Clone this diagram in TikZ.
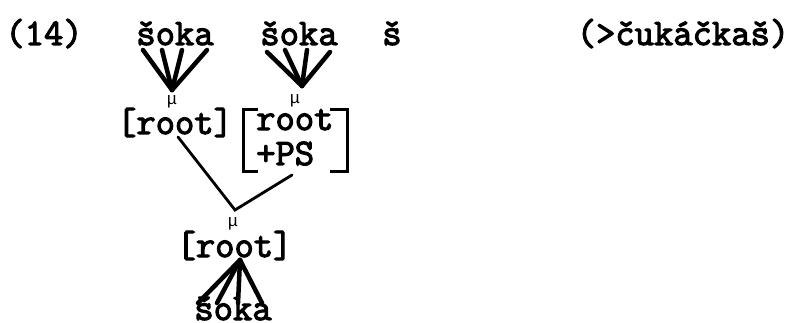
\documentclass[tikz,border=0pt]{standalone}
\usepackage{fontspec}
\newfontface\tw{Latin Modern Mono}[FakeBold=3]
\newfontface\twmu{Liberation Mono}
\begin{document}
\begin{tikzpicture}[x=1pt,y=-1pt,
  word/.style={inner sep=0pt,anchor=base,font=\fontsize{37.5}{40}\tw},
  wordw/.style={inner sep=0pt,anchor=base west,font=\fontsize{37.5}{40}\tw},
  mu/.style={inner sep=0pt,anchor=base,font=\fontsize{17}{18}\twmu},
  fan/.style={line width=4.5pt,line cap=round},
  branch/.style={line width=2.8pt,line cap=round},
  brk/.style={line width=3pt}]
\useasboundingbox (0,0) rectangle (792,323);
% top row
\node[word] (ex) at (44,45) {(14)};
\node[word] (s1) at (175,45) {šoka};
\node[word] (s2) at (299,45) {šoka};
\node[word] (s3) at (392,45) {š};
\node[word] (res) at (683,45) {(>čukáčkaš)};
% first root
\node[word] (r1) at (175,134) {[root]};
\node[mu] (mu1) at (172,105) {μ};
% second root with PS
\node[wordw] (r2) at (256,130) {root};
\node[wordw] (ps) at (256,165) {+PS};
\node[mu] (mu2) at (295,104) {μ};
\draw[brk] (258,110) -- (243,110) -- (243,172) -- (258,172);
\draw[brk] (330,110) -- (347,110) -- (347,172) -- (330,172);
% bottom root
\node[word] (r3) at (234.5,257) {[root]};
\node[mu] (mu3) at (233,226) {μ};
\node[word] (s4) at (233,320) {šoka};
% fan coordinates
\coordinate (f1) at (172,90);
\coordinate (a1) at (143,50); \coordinate (a2) at (162,50);
\coordinate (a3) at (182,50); \coordinate (a4) at (207,50);
\coordinate (f2) at (302,86);
\coordinate (b1) at (267,52); \coordinate (b2) at (285,50);
\coordinate (b3) at (307,50); \coordinate (b4) at (330,52);
\coordinate (f3) at (240,260);
\coordinate (c1) at (198,303); \coordinate (c2) at (217,303);
\coordinate (c3) at (238,303); \coordinate (c4) at (262,303);
\foreach \p in {a1,a2,a3,a4} \draw[fan] (\p) -- (f1);
\foreach \p in {b1,b2,b3,b4} \draw[fan] (\p) -- (f2);
\foreach \p in {c1,c2,c3,c4} \draw[fan] (f3) -- (\p);
% branches
\coordinate (j) at (235,210);
\coordinate (r1b) at (178,137);
\coordinate (psb) at (292,175);
\draw[branch] (r1b) -- (j) -- (psb);
\end{tikzpicture}
\end{document}
